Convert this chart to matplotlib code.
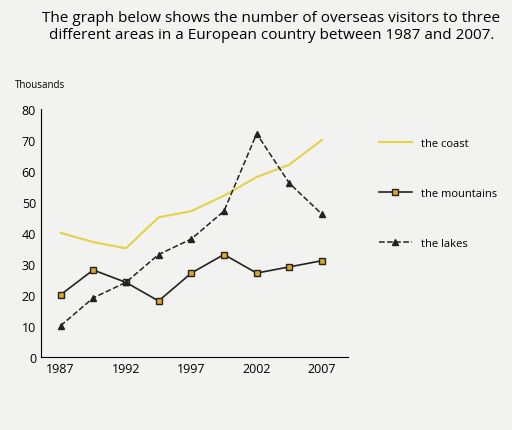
import matplotlib
matplotlib.use("Agg")
import matplotlib.pyplot as plt
from matplotlib.lines import Line2D

years = [1987, 1989.5, 1992, 1994.5, 1997, 1999.5, 2002, 2004.5, 2007]
coast = [40, 37, 35, 45, 47, 52, 58, 62, 70]
mountains = [20, 28, 24, 18, 27, 33, 27, 29, 31]
lakes = [10, 19, 24, 33, 38, 47, 72, 56, 46]
xticks = [1987, 1992, 1997, 2002, 2007]
yticks = list(range(0, 81, 10))

plt.rcParams['font.family'] = ['Open Sans', 'DejaVu Sans']
fig = plt.figure(figsize=(5.12, 4.31), dpi=100)
fig.patch.set_facecolor("#f2f2f0")
ax = fig.add_axes([0.08, 0.17, 0.60, 0.575])
ax.set_facecolor("#f2f2f0")
ax.plot(years, coast, color="#e3d24a", lw=1.5)
ax.plot(years, mountains, color="#222222", lw=1.2, marker="s", ms=5,
        mfc="#d9a52a", mec="#222222")
ax.plot(years, lakes, color="#222222", lw=1.1, ls="--", marker="^", ms=5, mfc="#222222")
ax.set_xlim(1985.5, 2009)
ax.set_ylim(0, 80)
ax.set_xticks(xticks)
ax.set_yticks(yticks)
ax.tick_params(length=0, labelsize=9)
for s in ["top", "right"]:
    ax.spines[s].set_visible(False)
fig.text(0.03, 0.795, "Thousands", fontsize=7)
fig.text(0.53, 0.975, "The graph below shows the number of overseas visitors to three\ndifferent areas in a European country between 1987 and 2007.",
         ha="center", va="top", fontsize=11)
handles = [Line2D([], [], color="#e3d24a", lw=1.5),
           Line2D([], [], color="#222222", lw=1.2, marker="s", ms=5, mfc="#d9a52a"),
           Line2D([], [], color="#222222", lw=1.1, ls="--", marker="^", ms=5, mfc="#222222")]
labels = ["the coast", "the mountains", "the lakes"]
fig.legend(handles, labels, loc="upper left", bbox_to_anchor=(0.72, 0.70), frameon=False,
           fontsize=8, labelspacing=3.5, handlelength=3)
fig.savefig("out.png", dpi=100, facecolor=fig.get_facecolor())
